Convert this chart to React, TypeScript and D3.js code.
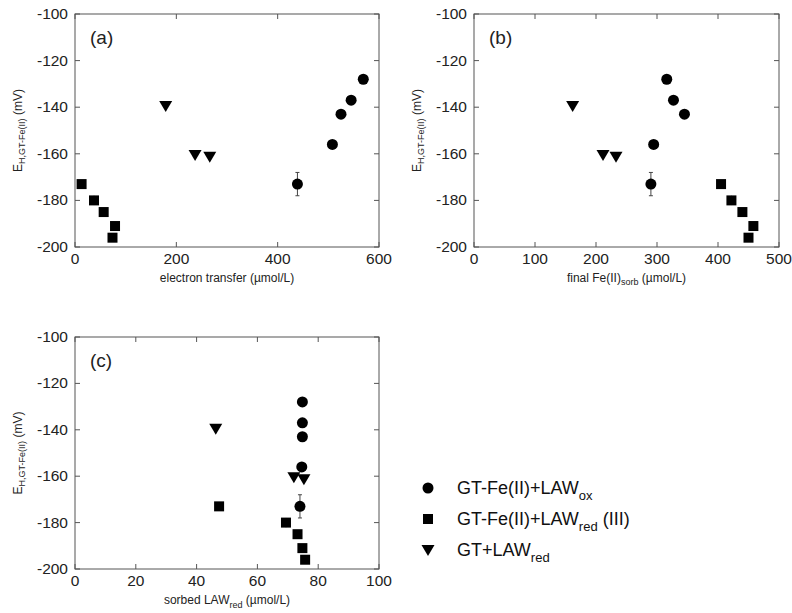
import React from "react";
import * as d3 from "d3";

// y values (mV)
const oxY = [-173, -156, -143, -137, -128];
const oxErr = [5, 0, 0, 0, 0];
const redY = [-173, -180, -185, -191, -196];
const redErr = [0, 2, 0, 0, 0];
const gtY = [-139.5, -160.5, -161.3];

// panel (a): electron transfer
const aOxX = [439, 508, 525, 545, 569];
const aRedX = [13, 37.5, 56.6, 79, 74];
const aGtX = [179, 237, 266];
// panel (b): final Fe(II)sorb
const bOxX = [290, 294.5, 345, 327, 316];
const bRedX = [405, 422, 440, 458, 450];
const bGtX = [161.7, 211.5, 232.8];
// panel (c): sorbed LAWred
const cOxX = [74, 74.6, 74.8, 74.8, 74.8];
const cRedX = [47.4, 69.4, 73.2, 74.8, 75.7];
const cGtX = [46.3, 72, 75.3];

const yTicks = [-100, -120, -140, -160, -180, -200];
const aTicks = [0, 200, 400, 600];
const bTicks = [0, 100, 200, 300, 400, 500];
const cTicks = [0, 20, 40, 60, 80, 100];

const legendLabels = [
  ["GT-Fe(II)+LAW", "ox", ""],
  ["GT-Fe(II)+LAW", "red", " (III)"],
  ["GT+LAW", "red", ""],
];

const FONT = "'Liberation Sans', Arial, Helvetica, sans-serif";
const FRAME = "#555";

function Marker({ type, x, y }: { type: string; x: number; y: number }) {
  if (type === "circle") return <circle cx={x} cy={y} r={5.5} fill="#000" />;
  if (type === "square") return <rect x={x - 5} y={y - 5} width={10} height={10} fill="#000" />;
  return <path d={`M${x - 6.5},${y - 5} L${x + 6.5},${y - 5} L${x},${y + 6} Z`} fill="#000" />;
}

type PanelProps = {
  left: number; right: number; top: number; bottom: number;
  xMax: number; xTicks: number[]; tag: string;
  ox: number[]; red: number[]; gt: number[];
  xlabel: React.ReactNode;
};

function Panel(p: PanelProps) {
  const x = d3.scaleLinear().domain([0, p.xMax]).range([p.left, p.right]);
  const y = d3.scaleLinear().domain([-200, -100]).range([p.bottom, p.top]);
  const tl = 5;
  return (
    <g>
      <rect x={p.left} y={p.top} width={p.right - p.left} height={p.bottom - p.top} fill="none" stroke={FRAME} strokeWidth={1} />
      {p.xTicks.map((t) => (
        <g key={"x" + t}>
          <line x1={x(t)} x2={x(t)} y1={p.bottom} y2={p.bottom - tl} stroke={FRAME} />
          <line x1={x(t)} x2={x(t)} y1={p.top} y2={p.top + tl} stroke={FRAME} />
          <text x={x(t)} y={p.bottom + 17} textAnchor="middle" fontSize={15.5} fontFamily={FONT} fill="#222">{t}</text>
        </g>
      ))}
      {yTicks.map((t) => (
        <g key={"y" + t}>
          <line x1={p.left} x2={p.left + tl} y1={y(t)} y2={y(t)} stroke={FRAME} />
          <line x1={p.right} x2={p.right - tl} y1={y(t)} y2={y(t)} stroke={FRAME} />
          <text x={p.left - 7} y={y(t) + 5} textAnchor="end" fontSize={15.5} fontFamily={FONT} fill="#222">{t}</text>
        </g>
      ))}
      <text x={p.left + 15} y={p.top + 30} fontSize={19} fontFamily={FONT} fill="#222">{p.tag}</text>
      <text x={(p.left + p.right) / 2} y={p.bottom + 35} textAnchor="middle" fontSize={12} fontFamily={FONT} fill="#222">{p.xlabel}</text>
      <text transform={`translate(${p.left - 53},${(p.top + p.bottom) / 2}) rotate(-90)`} textAnchor="middle" fontSize={12} fontFamily={FONT} fill="#222">
        E<tspan fontSize={9} dy={3}>H,GT-Fe(II)</tspan><tspan dy={-3}> (mV)</tspan>
      </text>
      {p.ox.map((v, i) => oxErr[i] > 0 ? (
        <g key={"oe" + i} stroke="#444" strokeWidth={1}>
          <line x1={x(v)} x2={x(v)} y1={y(oxY[i] - oxErr[i])} y2={y(oxY[i] + oxErr[i])} />
          <line x1={x(v) - 2} x2={x(v) + 2} y1={y(oxY[i] - oxErr[i])} y2={y(oxY[i] - oxErr[i])} />
          <line x1={x(v) - 2} x2={x(v) + 2} y1={y(oxY[i] + oxErr[i])} y2={y(oxY[i] + oxErr[i])} />
        </g>
      ) : null)}
      {p.red.map((v, i) => redErr[i] > 0 ? (
        <g key={"re" + i} stroke="#444" strokeWidth={1}>
          <line x1={x(v)} x2={x(v)} y1={y(redY[i] - redErr[i])} y2={y(redY[i] + redErr[i])} />
        </g>
      ) : null)}
      {p.ox.map((v, i) => <Marker key={"o" + i} type="circle" x={x(v)} y={y(oxY[i])} />)}
      {p.red.map((v, i) => <Marker key={"r" + i} type="square" x={x(v)} y={y(redY[i])} />)}
      {p.gt.map((v, i) => <Marker key={"g" + i} type="tri" x={x(v)} y={y(gtY[i])} />)}
    </g>
  );
}

export default function App() {
  const legendTypes = ["circle", "square", "tri"];
  return (
    <svg width={792} height={613} style={{ position: "absolute", left: 0, top: 0, background: "#fff" }}>
      <Panel left={75} right={379} top={14} bottom={247} xMax={600} xTicks={aTicks} tag="(a)"
        ox={aOxX} red={aRedX} gt={aGtX} xlabel={<tspan>electron transfer (µmol/L)</tspan>} />
      <Panel left={474} right={779} top={14} bottom={247} xMax={500} xTicks={bTicks} tag="(b)"
        ox={bOxX} red={bRedX} gt={bGtX}
        xlabel={<><tspan>final Fe(II)</tspan><tspan fontSize={9} dy={3}>sorb</tspan><tspan dy={-3}>  (µmol/L)</tspan></>} />
      <Panel left={75} right={379} top={337} bottom={569} xMax={100} xTicks={cTicks} tag="(c)"
        ox={cOxX} red={cRedX} gt={cGtX}
        xlabel={<><tspan>sorbed LAW</tspan><tspan fontSize={9} dy={4}>red</tspan><tspan dy={-4}> (µmol/L)</tspan></>} />
      {legendLabels.map((l, i) => {
        const cy = 488 + i * 31;
        return (
          <g key={"lg" + i}>
            <Marker type={legendTypes[i]} x={428} y={cy} />
            <text x={457} y={cy + 6} fontSize={18} fontFamily={FONT} fill="#111">
              {l[0]}<tspan fontSize={13} dy={6}>{l[1]}</tspan><tspan dy={-6}>{l[2]}</tspan>
            </text>
          </g>
        );
      })}
    </svg>
  );
}
